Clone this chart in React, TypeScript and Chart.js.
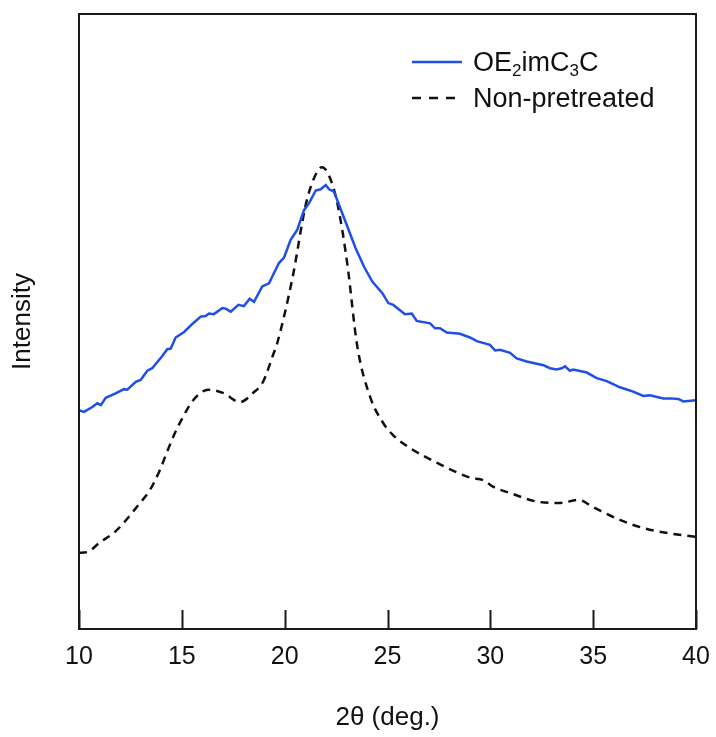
import React, { useEffect, useRef } from "react";
import { Chart, registerables } from "chart.js";

Chart.register(...registerables);

// 2θ (deg.) positions and intensities (a.u.)
const blueTheta = [10.0, 10.24, 10.65, 10.89, 11.06, 11.3, 11.78, 12.19, 12.35, 12.76, 13.0, 13.32, 13.56, 14.05, 14.29, 14.46, 14.7, 15.11, 15.51, 15.92, 16.16, 16.32, 16.56, 16.97, 17.13, 17.38, 17.75, 18.02, 18.3, 18.51, 18.91, 19.24, 19.72, 19.97, 20.29, 20.61, 20.94, 21.18, 21.51, 21.75, 22.0, 22.16, 22.4, 22.8, 23.45, 23.86, 24.26, 24.75, 25.04, 25.28, 25.85, 26.18, 26.42, 27.07, 27.31, 27.55, 27.88, 28.52, 29.01, 29.34, 29.98, 30.23, 30.47, 30.96, 31.28, 31.77, 32.58, 32.9, 33.23, 33.47, 33.63, 33.87, 34.03, 34.69, 35.17, 35.66, 36.3, 36.95, 37.44, 37.76, 38.41, 38.74, 39.14, 39.38, 40.0];
const blueValues = [35.6, 35.3, 36.1, 36.7, 36.4, 37.6, 38.3, 39.0, 38.9, 40.2, 40.5, 42.0, 42.4, 44.4, 45.5, 45.6, 47.4, 48.3, 49.6, 50.8, 50.9, 51.3, 51.2, 52.2, 52.1, 51.6, 52.7, 52.5, 53.7, 53.2, 55.7, 56.2, 59.5, 60.4, 63.3, 64.9, 68.1, 69.2, 71.3, 71.5, 72.2, 71.5, 71.1, 67.6, 61.9, 58.9, 56.5, 54.6, 53.0, 52.7, 51.2, 51.3, 50.1, 49.7, 48.9, 48.9, 48.2, 48.0, 47.4, 46.8, 46.2, 45.3, 45.4, 44.9, 44.0, 43.5, 42.9, 42.4, 42.2, 42.4, 42.7, 42.0, 42.2, 41.7, 40.8, 40.3, 39.3, 38.6, 37.9, 38.0, 37.5, 37.5, 37.4, 37.0, 37.2];

const blackTheta = [10.0, 10.39, 11.02, 11.75, 12.97, 13.45, 13.94, 14.28, 14.67, 15.06, 15.55, 16.28, 17.0, 17.83, 18.47, 18.95, 19.44, 19.64, 20.41, 21.0, 21.39, 21.82, 22.21, 22.6, 23.04, 23.53, 24.16, 24.79, 25.28, 26.11, 27.42, 29.03, 29.66, 30.15, 30.97, 32.29, 33.41, 34.28, 35.01, 36.33, 37.45, 38.62, 40.0];
const blackValues = [12.4, 12.5, 14.1, 15.8, 20.5, 22.6, 25.9, 28.8, 31.9, 34.5, 37.2, 38.9, 38.4, 36.9, 38.4, 40.2, 44.6, 46.5, 57.6, 68.6, 73.0, 75.1, 73.3, 68.6, 59.5, 46.0, 37.7, 33.5, 31.5, 29.4, 27.0, 24.6, 24.2, 23.1, 22.1, 20.7, 20.5, 21.0, 19.8, 17.7, 16.4, 15.6, 15.0];

const xTickValues = [10, 15, 20, 25, 30, 35, 40];
const seriesNames = ["OE2imC3C", "Non-pretreated"];

const FONT = "'Liberation Sans', Arial, Helvetica, sans-serif";
const BLUE = "#1f4fe6";

const framePlugin = {
  id: "frameAndTicks",
  afterDraw(chart: any) {
    const { ctx, chartArea } = chart;
    const xs = chart.scales.x;
    ctx.save();
    ctx.strokeStyle = "#1a1a1a";
    ctx.lineWidth = 2;
    ctx.strokeRect(chartArea.left, chartArea.top, chartArea.right - chartArea.left, chartArea.bottom - chartArea.top);
    ctx.beginPath();
    for (const v of xTickValues) {
      const px = Math.round(xs.getPixelForValue(v)) + 0.5;
      ctx.moveTo(px, chartArea.bottom);
      ctx.lineTo(px, chartArea.bottom - 19);
    }
    ctx.stroke();
    ctx.restore();
  },
};

function drawRich(ctx: any, parts: [string, boolean][], x: number, y: number) {
  let cx = x;
  for (const [t, sub] of parts) {
    ctx.font = sub ? `17px ${FONT}` : `27px ${FONT}`;
    ctx.fillText(t, cx, sub ? y + 5 : y);
    cx += ctx.measureText(t).width;
  }
}

const legendPlugin = {
  id: "customLegend",
  afterDraw(chart: any) {
    const { ctx, chartArea } = chart;
    const x0 = chartArea.right - 284;
    const y1 = chartArea.top + 48;
    const y2 = chartArea.top + 84;
    ctx.save();
    ctx.lineWidth = 2.5;
    ctx.strokeStyle = BLUE;
    ctx.beginPath();
    ctx.moveTo(x0, y1);
    ctx.lineTo(x0 + 50, y1);
    ctx.stroke();
    ctx.strokeStyle = "#111";
    ctx.setLineDash([9, 8]);
    ctx.beginPath();
    ctx.moveTo(x0, y2);
    ctx.lineTo(x0 + 50, y2);
    ctx.stroke();
    ctx.setLineDash([]);
    ctx.fillStyle = "#111";
    ctx.textBaseline = "alphabetic";
    ctx.textAlign = "left";
    drawRich(ctx, [["OE", false], ["2", true], ["imC", false], ["3", true], ["C", false]], x0 + 61, y1 + 9);
    drawRich(ctx, [[seriesNames[1], false]], x0 + 61, y2 + 9);
    ctx.restore();
  },
};

export default function App() {
  const ref = useRef<HTMLCanvasElement | null>(null);
  useEffect(() => {
    if (!ref.current) return;
    const chart = new Chart(ref.current, {
      type: "line",
      data: {
        datasets: [
          {
            label: seriesNames[0],
            data: blueTheta.map((t, i) => ({ x: t, y: blueValues[i] })),
            borderColor: BLUE,
            borderWidth: 2.5,
            pointRadius: 0,
            tension: 0,
            fill: false,
          },
          {
            label: seriesNames[1],
            data: blackTheta.map((t, i) => ({ x: t, y: blackValues[i] })),
            borderColor: "#111",
            borderWidth: 2.5,
            borderDash: [8, 6],
            pointRadius: 0,
            cubicInterpolationMode: "monotone",
            fill: false,
          },
        ],
      },
      options: {
        animation: false,
        responsive: false,
        layout: { padding: { top: 14, right: 20, left: 0, bottom: 0 } },
        plugins: { legend: { display: false }, tooltip: { enabled: false } },
        scales: {
          x: {
            type: "linear",
            min: 10,
            max: 40,
            afterBuildTicks: (s: any) => {
              s.ticks = xTickValues.map((v) => ({ value: v }));
            },
            afterFit: (s: any) => {
              s.height = 108;
              s.paddingLeft = 0;
              s.paddingRight = 0;
            },
            grid: { display: false, drawTicks: false },
            border: { display: false },
            ticks: {
              padding: 13,
              color: "#111",
              font: { family: FONT, size: 25 },
              maxRotation: 0,
            },
            title: {
              display: true,
              text: "2θ (deg.)",
              color: "#111",
              font: { family: FONT, size: 26 },
              padding: 4,
            },
          },
          y: {
            min: 0,
            max: 100,
            afterFit: (s: any) => {
              s.width = 79;
            },
            grid: { display: false, drawTicks: false },
            border: { display: false },
            ticks: { display: false },
            title: {
              display: true,
              text: "Intensity",
              color: "#111",
              font: { family: FONT, size: 26 },
              padding: 7,
            },
          },
        },
      },
      plugins: [framePlugin, legendPlugin],
    } as any);
    return () => chart.destroy();
  }, []);
  return (
    <div style={{ position: "fixed", left: 0, top: 0, width: 716, height: 737, background: "#fff" }}>
      <canvas ref={ref} width={716} height={737} />
    </div>
  );
}
